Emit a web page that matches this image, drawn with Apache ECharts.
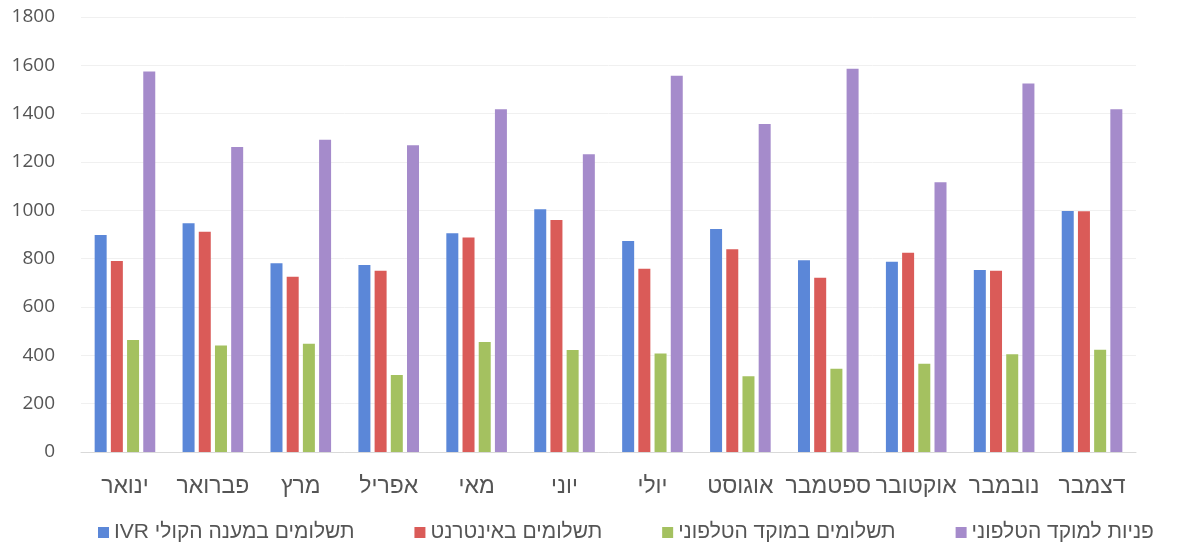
<!DOCTYPE html>
<html><head><meta charset="utf-8">
<script src="https://cdn.jsdelivr.net/npm/echarts@6/dist/echarts.min.js"></script>
<style>html,body{margin:0;padding:0;background:#fff}#c{width:1196px;height:551px}</style>
</head><body><div id="c"></div>
<script>
const months = ['ינואר','פברואר','מרץ','אפריל','מאי','יוני','יולי','אוגוסט','ספטמבר','אוקטובר','נובמבר','דצמבר'];
const seriesNames = ['IVR תשלומים במענה הקולי','תשלומים באינטרנט','תשלומים במוקד הטלפוני','פניות למוקד הטלפוני'];
const ivrPayments = [898, 947, 781, 774, 905, 1004, 873, 923, 793, 787, 753, 997];
const internetPayments = [790, 911, 725, 750, 888, 960, 758, 839, 721, 825, 750, 996];
const phonePayments = [463, 441, 448, 319, 455, 422, 408, 313, 345, 365, 404, 423];
const phoneInquiries = [1575, 1262, 1292, 1269, 1418, 1232, 1557, 1357, 1586, 1116, 1525, 1418];
const yTicks = {min: 0, max: 1800, interval: 200};
const colors = ['#5B87D8', '#DA5B58', '#A4C160', '#A58BCB'];

const chart = echarts.init(document.getElementById('c'));
const data = [ivrPayments, internetPayments, phonePayments, phoneInquiries];
chart.setOption({
  animation: false,
  color: colors,
  grid: {left: 81, right: 60, top: 17, bottom: 99, containLabel: false},
  legend: {
    bottom: 3, left: 93, itemWidth: 11, itemHeight: 11, itemGap: 60,
    icon: 'rect',
    textStyle: {fontFamily: 'Liberation Sans', fontSize: 21, color: '#555'},
    data: seriesNames
  },
  xAxis: {
    type: 'category', data: months,
    axisLine: {lineStyle: {color: '#d9d9d9'}},
    axisTick: {show: false},
    axisLabel: {fontFamily: 'Liberation Sans', fontSize: 23, color: '#555', margin: 23, interval: 0}
  },
  yAxis: {
    type: 'value', min: yTicks.min, max: yTicks.max, interval: yTicks.interval,
    axisLine: {show: false}, axisTick: {show: false},
    splitLine: {lineStyle: {color: '#f0f0f0'}},
    axisLabel: {fontFamily: 'Open Sans', fontSize: 19, color: '#555', margin: 26, formatter: v => String(v)}
  },
  series: seriesNames.map((n, i) => ({
    name: n, type: 'bar', data: data[i], barWidth: 12, barGap: '35%'
  }))
});
</script></body></html>
